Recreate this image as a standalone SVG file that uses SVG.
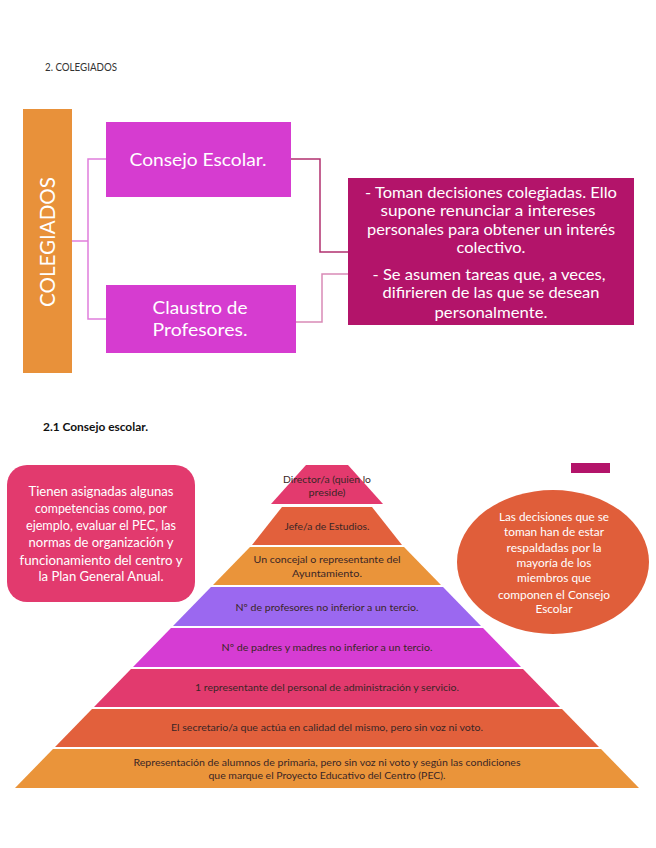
<svg xmlns="http://www.w3.org/2000/svg" width="656" height="848" viewBox="0 0 656 848">
<style>
  text { font-family: Lato, "Open Sans", "Liberation Sans", sans-serif; }
  .w { fill: #ffffff; text-anchor: middle; }
  .p { fill: #3a2626; text-anchor: middle; font-size: 9.5px; }
  .big { font-size: 16px; }
  .lr { font-size: 12.5px; }
  .el { font-size: 11px; }
  .lnA { fill: none; stroke: #E07EDB; stroke-width: 1.5; }
  .lnB { fill: none; stroke: #B1306F; stroke-width: 1.5; }
  .lnC { fill: none; stroke: #D98AB6; stroke-width: 1.5; }
</style>
<rect width="656" height="848" fill="#ffffff"/>

<text x="45" y="71" font-size="10.5" fill="#333333" textLength="72" lengthAdjust="spacingAndGlyphs">2. COLEGIADOS</text>

<g id="connectors">
  <polyline class="lnA" points="72,241 88,241"/>
  <polyline class="lnA" points="106,159 88,159 88,319 106,319"/>
  <polyline class="lnB" points="291,159 320,159 320,252 348,252"/>
  <polyline class="lnC" points="296,322 322,322 322,274 348,274"/>
</g>

<g id="colegiados">
  <rect x="23" y="109" width="49" height="264" fill="#E8913A"/>
  <text class="w" x="0" y="0" font-size="21" transform="translate(55,242) rotate(-90)" textLength="130" lengthAdjust="spacingAndGlyphs">COLEGIADOS</text>
</g>

<g id="consejo-escolar">
  <rect x="106" y="122" width="185" height="75" fill="#D63CD0"/>
  <text class="w" x="198" y="166" font-size="18" textLength="137" lengthAdjust="spacingAndGlyphs">Consejo Escolar.</text>
</g>

<g id="claustro">
  <rect x="106" y="285" width="190" height="68" fill="#D63CD0"/>
  <text class="w" x="200" y="314" font-size="18" textLength="95" lengthAdjust="spacingAndGlyphs">Claustro de</text>
  <text class="w" x="200" y="336" font-size="18" textLength="95" lengthAdjust="spacingAndGlyphs">Profesores.</text>
</g>

<g id="decisiones">
  <rect x="348" y="178" width="286" height="147" fill="#B3146A"/>
  <text class="w big" x="491" y="198" textLength="252" lengthAdjust="spacingAndGlyphs">- Toman decisiones colegiadas. Ello</text>
  <text class="w big" x="488" y="216" textLength="215" lengthAdjust="spacingAndGlyphs">supone renunciar a intereses</text>
  <text class="w big" x="491" y="235" textLength="248" lengthAdjust="spacingAndGlyphs">personales para obtener un interés</text>
  <text class="w big" x="491" y="253" textLength="69" lengthAdjust="spacingAndGlyphs">colectivo.</text>
  <text class="w big" x="489" y="280" textLength="233" lengthAdjust="spacingAndGlyphs">- Se asumen tareas que, a veces,</text>
  <text class="w big" x="491" y="298" textLength="217" lengthAdjust="spacingAndGlyphs">difirieren de las que se desean</text>
  <text class="w big" x="491" y="318" textLength="113" lengthAdjust="spacingAndGlyphs">personalmente.</text>
</g>

<text x="43" y="431" font-size="11" font-weight="bold" fill="#111111" textLength="105" lengthAdjust="spacingAndGlyphs">2.1 Consejo escolar.</text>

<g id="competencias">
  <rect x="7" y="465" width="188" height="137" rx="20" ry="20" fill="#E23A6E"/>
  <text class="w lr" x="101" y="496" textLength="145" lengthAdjust="spacingAndGlyphs">Tienen asignadas algunas</text>
  <text class="w lr" x="101" y="513" textLength="132" lengthAdjust="spacingAndGlyphs">competencias como, por</text>
  <text class="w lr" x="101" y="530" textLength="150" lengthAdjust="spacingAndGlyphs">ejemplo, evaluar el PEC, las</text>
  <text class="w lr" x="101" y="547" textLength="145" lengthAdjust="spacingAndGlyphs">normas de organización y</text>
  <text class="w lr" x="101" y="565" textLength="163" lengthAdjust="spacingAndGlyphs">funcionamiento del centro y</text>
  <text class="w lr" x="101" y="581" textLength="125" lengthAdjust="spacingAndGlyphs">la Plan General Anual.</text>
</g>

<g id="mayoria">
  <ellipse cx="553" cy="562" rx="96" ry="72" fill="#E05E3A"/>
  <text class="w el" x="554" y="521" textLength="110" lengthAdjust="spacingAndGlyphs">Las decisiones que se</text>
  <text class="w el" x="554" y="536" textLength="100" lengthAdjust="spacingAndGlyphs">toman han de estar</text>
  <text class="w el" x="554" y="552" textLength="95" lengthAdjust="spacingAndGlyphs">respaldadas por la</text>
  <text class="w el" x="554" y="567" textLength="75" lengthAdjust="spacingAndGlyphs">mayoría de los</text>
  <text class="w el" x="554" y="582" textLength="74" lengthAdjust="spacingAndGlyphs">miembros que</text>
  <text class="w el" x="554" y="599" textLength="112" lengthAdjust="spacingAndGlyphs">componen el Consejo</text>
  <text class="w el" x="554" y="613" textLength="37" lengthAdjust="spacingAndGlyphs">Escolar</text>
</g>

<g id="marca">
  <rect x="571" y="463" width="39" height="10" fill="#B3146A"/>
</g>

<g id="nivel-director">
  <polygon points="306,465 348,465 383,504 271,504" fill="#E33A6E"/>
  <text class="p" x="327" y="483" textLength="88" lengthAdjust="spacingAndGlyphs">Director/a (quien lo</text>
  <text class="p" x="327" y="496" textLength="37" lengthAdjust="spacingAndGlyphs">preside)</text>
</g>
<g id="nivel-jefe">
  <polygon points="282,507 372,507 402,545 252,545" fill="#E2603C"/>
  <text class="p" x="327" y="530" textLength="85" lengthAdjust="spacingAndGlyphs">Jefe/a de Estudios.</text>
</g>
<g id="nivel-concejal">
  <polygon points="250,547 404,547 441,585 213,585" fill="#EA943A"/>
  <text class="p" x="327" y="563" textLength="147" lengthAdjust="spacingAndGlyphs">Un concejal o representante del</text>
  <text class="p" x="327" y="577" textLength="70" lengthAdjust="spacingAndGlyphs">Ayuntamiento.</text>
</g>
<g id="nivel-profesores">
  <polygon points="211,587 443,587 481,626 173,626" fill="#9B68F0"/>
  <text class="p" x="327" y="611" textLength="183" lengthAdjust="spacingAndGlyphs">Nº de profesores no inferior a un tercio.</text>
</g>
<g id="nivel-padres">
  <polygon points="171,628 483,628 521,667 133,667" fill="#D63CD3"/>
  <text class="p" x="327" y="651" textLength="211" lengthAdjust="spacingAndGlyphs">Nº de padres y madres no inferior a un tercio.</text>
</g>
<g id="nivel-administracion">
  <polygon points="131,669 523,669 560,707 94,707" fill="#E23A6E"/>
  <text class="p" x="327" y="691" textLength="264" lengthAdjust="spacingAndGlyphs">1 representante del personal de administración y servicio.</text>
</g>
<g id="nivel-secretario">
  <polygon points="92,709 562,709 599,747 55,747" fill="#E2603C"/>
  <text class="p" x="327" y="731" textLength="312" lengthAdjust="spacingAndGlyphs">El secretario/a que actúa en calidad del mismo, pero sin voz ni voto.</text>
</g>
<g id="nivel-alumnos">
  <polygon points="53,749 601,749 639,788 15,788" fill="#EA943A"/>
  <text class="p" x="327" y="766" textLength="387" lengthAdjust="spacingAndGlyphs">Representación de alumnos de primaria, pero sin voz ni voto y según las condiciones</text>
  <text class="p" x="327" y="779" textLength="237" lengthAdjust="spacingAndGlyphs">que marque el Proyecto Educativo del Centro (PEC).</text>
</g>
</svg>
